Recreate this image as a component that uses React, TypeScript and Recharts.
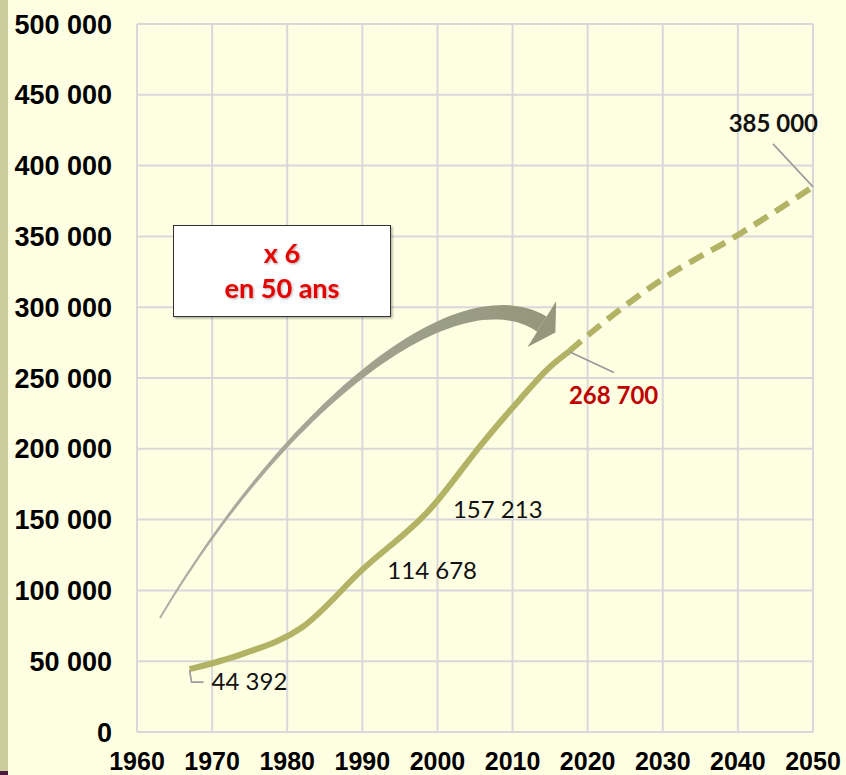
import React from "react";
import {
  CartesianGrid,
  Line,
  LineChart,
  ReferenceDot,
  XAxis,
  YAxis,
} from "recharts";

// population recensée puis projetée
const observedYears = [1967, 1974, 1982, 1990, 1999, 2006, 2011, 2015, 2017.5];
const observedValues = [44392, 55000, 74000, 114678, 157213, 204000, 235000, 258000, 268700];
const projectionYears = [2017.5, 2020, 2030, 2040, 2050];
const projectionValues = [268700, 280000, 320000, 351000, 385000];

const xTicks = [1960, 1970, 1980, 1990, 2000, 2010, 2020, 2030, 2040, 2050];
const yTicks = [0, 50000, 100000, 150000, 200000, 250000, 300000, 350000, 400000, 450000, 500000];

const labelYears = [1967, 1990, 1999, 2017.5, 2050];
const labelValues = [44392, 114678, 157213, 268700, 385000];
const calloutLines = ["x 6", "en 50 ans"];

// arrow path, in chart units (year, population)
const arrowYears = [1963.06, 1980.04, 2002.6, 2013.9];
const arrowValues = [80500, 232300, 325600, 288100];

const W = 846;
const H = 775;
const PLOT = { left: 137, top: 24, right: 813, bottom: 732 };
const OLIVE = "#B3B365";
const AXIS_FONT = '"Liberation Sans", Arial, sans-serif';
const LABEL_FONT = 'Lato, "Open Sans", sans-serif';

const fmt = (v: number) => String(v).replace(/\B(?=(\d{3})+(?!\d))/g, " ");

const toPx = (year: number, value: number) => ({
  x: PLOT.left + ((year - 1960) / 90) * (PLOT.right - PLOT.left),
  y: PLOT.bottom - (value / 500000) * (PLOT.bottom - PLOT.top),
});

// how each label sits next to its point
const labelLayout = [
  { dx: 22, dy: 21, anchor: "start", bold: false, color: "#111", leader: [[0, 1], [2, 13], [14, 13]] },
  { dx: 25, dy: 9, anchor: "start", bold: false, color: "#111", leader: null },
  { dx: 23, dy: 9, anchor: "start", bold: false, color: "#111", leader: null },
  { dx: 0, dy: 52, anchor: "start", bold: true, color: "#C00000", leader: [[0, 0], [45, 21]] },
  { dx: 5, dy: -55, anchor: "end", bold: true, color: "#111", leader: [[0, 0], [-40, -43]] },
];

const years = Array.from(new Set([...observedYears, ...projectionYears])).sort((a, b) => a - b);
const table = years.map((year) => {
  const oi = observedYears.indexOf(year);
  const pi = projectionYears.indexOf(year);
  return {
    year,
    observed: oi >= 0 ? observedValues[oi] : null,
    projection: pi >= 0 ? projectionValues[pi] : null,
  };
});

function PointLabel(props: any) {
  const { cx, cy, index } = props;
  const l = labelLayout[index];
  return (
    <g>
      {l.leader && (
        <polyline
          points={l.leader.map(([a, b]) => `${cx + a},${cy + b}`).join(" ")}
          fill="none"
          stroke="#9A9A9A"
          strokeWidth={1.6}
        />
      )}
      <text
        x={cx + l.dx}
        y={cy + l.dy}
        textAnchor={l.anchor}
        fontFamily={LABEL_FONT}
        fontSize={24}
        fontWeight={l.bold ? 700 : 400}
        fill={l.color}
      >
        {fmt(labelValues[index])}
      </text>
    </g>
  );
}

function CurvedArrow() {
  const p = arrowYears.map((y, i) => toPx(y, arrowValues[i]));
  const N = 60;
  const left: string[] = [];
  const right: string[] = [];
  let end = p[3];
  let dir = { x: 1, y: 0 };
  for (let i = 0; i <= N; i++) {
    const t = i / N;
    const u = 1 - t;
    const x = u * u * u * p[0].x + 3 * u * u * t * p[1].x + 3 * u * t * t * p[2].x + t * t * t * p[3].x;
    const y = u * u * u * p[0].y + 3 * u * u * t * p[1].y + 3 * u * t * t * p[2].y + t * t * t * p[3].y;
    const dx = 3 * u * u * (p[1].x - p[0].x) + 6 * u * t * (p[2].x - p[1].x) + 3 * t * t * (p[3].x - p[2].x);
    const dy = 3 * u * u * (p[1].y - p[0].y) + 6 * u * t * (p[2].y - p[1].y) + 3 * t * t * (p[3].y - p[2].y);
    const len = Math.hypot(dx, dy) || 1;
    const nx = -dy / len;
    const ny = dx / len;
    const w = (2 + 16 * Math.pow(t, 1.6)) / 2;
    left.push(`${x + nx * w},${y + ny * w}`);
    right.unshift(`${x - nx * w},${y - ny * w}`);
    if (i === N) {
      end = { x, y };
      dir = { x: dx / len, y: dy / len };
    }
  }
  const n = { x: -dir.y, y: dir.x };
  const head = [
    `${end.x + n.x * 27},${end.y + n.y * 27}`,
    `${end.x - n.x * 27},${end.y - n.y * 27}`,
    `${end.x + dir.x * 16},${end.y + dir.y * 16}`,
  ].join(" ");
  return (
    <g>
      <defs>
        <linearGradient id="arrowFill" x1="0" y1="0" x2="1" y2="0">
          <stop offset="0%" stopColor="#AEAFA5" />
          <stop offset="100%" stopColor="#94977B" />
        </linearGradient>
      </defs>
      <polygon points={[...left, ...right].join(" ")} fill="url(#arrowFill)" />
      <polygon points={head} fill="#94977B" />
    </g>
  );
}

export default function App() {
  return (
    <div
      style={{
        position: "fixed",
        left: 0,
        top: 0,
        width: W,
        height: H,
        background: "#FEFEE3",
        overflow: "hidden",
      }}
    >
      <div style={{ position: "absolute", left: 0, top: 0, width: 8, height: 771, background: "#CBCB9B" }} />
      <div style={{ position: "absolute", left: 0, top: 771, width: 8, height: 4, background: "#4B1A3F" }} />
      <LineChart
        width={W}
        height={H}
        data={table}
        margin={{ top: PLOT.top, right: W - PLOT.right, bottom: 0, left: 0 }}
      >
        <CartesianGrid stroke="#D8D8DB" strokeWidth={2} />
        <XAxis
          dataKey="year"
          type="number"
          domain={[1960, 2050]}
          ticks={xTicks}
          height={H - PLOT.bottom}
          axisLine={false}
          tickLine={false}
          tickSize={0}
          tickMargin={20}
          interval={0}
          tick={{ fill: "#000", fontSize: 25, fontWeight: 700, fontFamily: AXIS_FONT }}
        />
        <YAxis
          type="number"
          domain={[0, 500000]}
          ticks={yTicks}
          width={PLOT.left}
          axisLine={false}
          tickLine={false}
          tickSize={0}
          tickMargin={25}
          interval={0}
          tickFormatter={fmt}
          tick={{ fill: "#000", fontSize: 27, fontWeight: 700, fontFamily: AXIS_FONT }}
        />
        <Line
          dataKey="observed"
          type="monotone"
          stroke={OLIVE}
          strokeWidth={6}
          dot={false}
          activeDot={false}
          isAnimationActive={false}
        />
        <Line
          dataKey="projection"
          type="monotone"
          stroke={OLIVE}
          strokeWidth={6}
          strokeDasharray="16 9"
          dot={false}
          activeDot={false}
          isAnimationActive={false}
        />
        {labelYears.map((y, i) => (
          <ReferenceDot
            key={y}
            x={y}
            y={labelValues[i]}
            r={0}
            ifOverflow="visible"
            shape={(p: any) => <PointLabel {...p} index={i} />}
          />
        ))}
      </LineChart>
      <svg width={W} height={H} style={{ position: "absolute", left: 0, top: 0, pointerEvents: "none" }}>
        <defs>
          <filter id="txtShadow" x="-10%" y="-10%" width="130%" height="140%">
            <feDropShadow dx="1" dy="1" stdDeviation="0.8" floodColor="#000" floodOpacity="0.35" />
          </filter>
          <filter id="boxShadow" x="-5%" y="-5%" width="115%" height="120%">
            <feDropShadow dx="1.5" dy="1.5" stdDeviation="1.2" floodColor="#000" floodOpacity="0.3" />
          </filter>
        </defs>
        <CurvedArrow />
        <rect x={173.5} y={225.5} width={217} height={91} fill="#FFFFFF" stroke="#333" strokeWidth={1} filter="url(#boxShadow)" />
        {calloutLines.map((t, i) => (
          <text
            key={t}
            x={282}
            y={i === 0 ? 263 : 298}
            textAnchor="middle"
            fontFamily={LABEL_FONT}
            fontSize={27}
            fontWeight={700}
            fill="#E60000"
            filter="url(#txtShadow)"
          >
            {t}
          </text>
        ))}
      </svg>
    </div>
  );
}
